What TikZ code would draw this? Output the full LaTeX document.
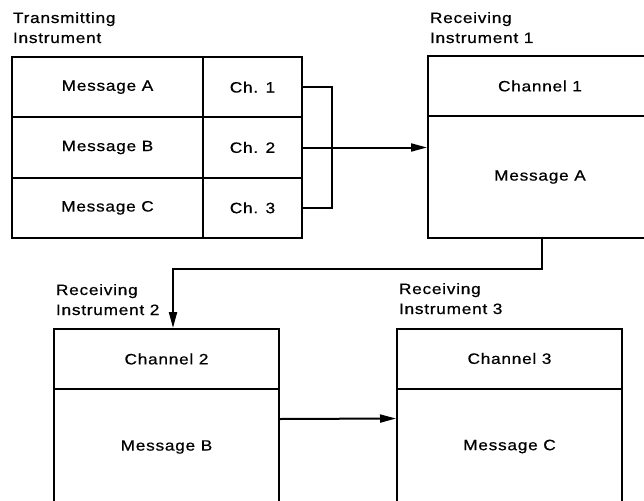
\documentclass[tikz,border=0pt]{standalone}
\usepackage{fontspec}
\setmainfont{Liberation Sans}[FakeStretch=1.15,LetterSpace=5.0,FakeBold=0.6]
\usetikzlibrary{arrows.meta}
\begin{document}
\begin{tikzpicture}[x=1pt,y=-1pt,line width=2pt,
  txt/.style={font=\fontsize{15}{18}\selectfont},
  cell/.style={draw,rectangle,inner sep=0pt,txt},
  lbl/.style={anchor=base west,inner sep=0pt,txt},
  arr/.style={-{Triangle[length=16pt,width=8pt]}}]
\useasboundingbox (0,0) rectangle (644,500);
\clip (0,0) rectangle (644,500);
% Transmitting instrument
\node[lbl] (tl1) at (12,23) {Transmitting};
\node[lbl] (tl2) at (12,43) {Instrument};
\node[cell,minimum width=191pt,minimum height=60.33pt] (mA) at (107.5,87.17) {Message A};
\node[cell,minimum width=191pt,minimum height=60.33pt] (mB) at (107.5,147.5) {Message B};
\node[cell,minimum width=191pt,minimum height=60.33pt] (mC) at (107.5,207.83) {Message C};
\node[cell,minimum width=99pt,minimum height=60.33pt] (c1) at (252.5,87.17) {Ch. 1};
\node[cell,minimum width=99pt,minimum height=60.33pt] (c2) at (252.5,147.5) {Ch. 2};
\node[cell,minimum width=99pt,minimum height=60.33pt] (c3) at (252.5,207.83) {Ch. 3};
% Receiving instrument 1
\node[lbl] (r1l1) at (429,23) {Receiving};
\node[lbl] (r1l2) at (429,43) {Instrument 1};
\node[cell,minimum width=224pt,minimum height=60pt] (r1t) at (540,86) {Channel 1};
\node[cell,minimum width=224pt,minimum height=122pt] (r1b) at (540,177) {Message A};
% Receiving instrument 2
\node[lbl] (r2l1) at (55,295) {Receiving};
\node[lbl] (r2l2) at (55,315) {Instrument 2};
\node[cell,minimum width=225pt,minimum height=60pt] (r2t) at (166.5,359) {Channel 2};
\node[cell,minimum width=225pt,minimum height=116pt] (r2b) at (166.5,447) {Message B};
% Receiving instrument 3
\node[lbl] (r3l1) at (398,294) {Receiving};
\node[lbl] (r3l2) at (398,314) {Instrument 3};
\node[cell,minimum width=225pt,minimum height=60pt] (r3t) at (509.5,358.5) {Channel 3};
\node[cell,minimum width=225pt,minimum height=116pt] (r3b) at (509.5,446.5) {Message C};
% connectors
\draw (c1.east) -- ++(29,0) |- (c3.east);
\draw[arr] (c2.east) -- (c2.east -| r1b.west);
\draw[arr] ([xshift=2pt]r1b.south) -- ++(0,30) -| ([xshift=6.5pt]r2t.north);
\draw[arr] ([yshift=28pt]r2b.east) -- ([yshift=28pt]r3b.west);
\end{tikzpicture}
\end{document}
